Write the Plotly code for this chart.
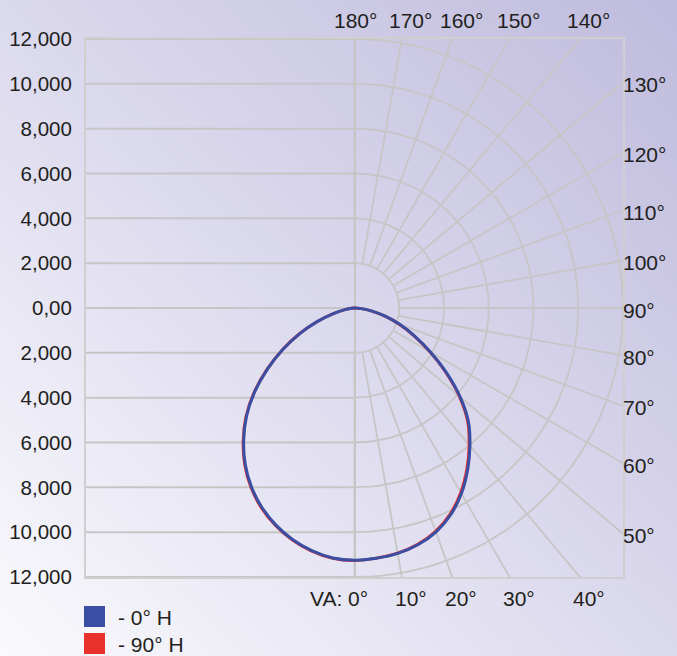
import math
import base64
import plotly.graph_objects as go

# ---------------- data ----------------
y_tick_values = [12000, 10000, 8000, 6000, 4000, 2000, 0,
                 -2000, -4000, -6000, -8000, -10000, -12000]
y_tick_labels = ["12,000", "10,000", "8,000", "6,000", "4,000", "2,000", "0,00",
                 "2,000", "4,000", "6,000", "8,000", "10,000", "12,000"]
ring_values = [2000, 4000, 6000, 8000, 10000, 12000]
spoke_angles = list(range(0, 181, 10))
top_angle_labels = [180, 170, 160, 150, 140]
right_angle_labels = [130, 120, 110, 100, 90, 80, 70, 60, 50]
bottom_angle_labels = [0, 10, 20, 30, 40]

gamma = [0, 5, 10, 15, 20, 25, 30, 35, 40, 45, 50, 55, 60, 65, 70, 75, 80, 85, 90]
h0_right = [11236, 11206, 11116, 10936, 10636, 10176, 9556, 8816, 8026, 7206,
            6156, 5006, 3906, 2966, 2166, 1446, 796, 316, 0]
h0_left = [11250, 11195, 10995, 10695, 10295, 9805, 9215, 8515, 7705, 6825,
           5825, 4750, 3700, 2700, 1775, 975, 425, 125, 0]
h90_right = [11230, 11200, 11105, 10915, 10600, 10130, 9500, 8760, 7970, 7150,
             6105, 4960, 3865, 2935, 2145, 1435, 790, 314, 0]
h90_left = [11262, 11210, 11015, 10720, 10325, 9840, 9250, 8550, 7740, 6860,
            5855, 4775, 3720, 2715, 1785, 980, 427, 125, 0]
series_names = ["- 0° H", "- 90° H"]
series_colors = ["#3a4ea3", "#e8312b"]

R = 12000
GRID = "#c6c6c6"
TXT = "#231f20"
FONT = "Liberation Sans, Arial, sans-serif"

fig = go.Figure()

# horizontal grid on left half
hx, hy = [], []
for v in y_tick_values:
    hx += [-R, 0, None]
    hy += [v, v, None]
fig.add_trace(go.Scatter(x=hx, y=hy, mode="lines", line=dict(color=GRID, width=2),
                         hoverinfo="skip", showlegend=False))

# polar grid on right half: rings
gx, gy = [], []
for r in ring_values:
    for d in range(0, 181, 2):
        a = math.radians(d)
        gx.append(r * math.sin(a))
        gy.append(-r * math.cos(a))
    gx.append(None)
    gy.append(None)
# spokes
for d in spoke_angles:
    a = math.radians(d)
    for r in (ring_values[0], 2 * R):
        gx.append(r * math.sin(a))
        gy.append(-r * math.cos(a))
    gx.append(None)
    gy.append(None)
fig.add_trace(go.Scatter(x=gx, y=gy, mode="lines", line=dict(color=GRID, width=1.8),
                         hoverinfo="skip", showlegend=False))


def curve(left, right):
    xs, ys = [], []
    for g, r in reversed(list(zip(gamma, left))):
        a = math.radians(g)
        xs.append(-r * math.sin(a))
        ys.append(-r * math.cos(a))
    for g, r in list(zip(gamma, right))[1:]:
        a = math.radians(g)
        xs.append(r * math.sin(a))
        ys.append(-r * math.cos(a))
    return xs, ys


x90, y90 = curve(h90_left, h90_right)
x0, y0 = curve(h0_left, h0_right)
fig.add_trace(go.Scatter(x=x90, y=y90, mode="lines", name=series_names[1],
                         line=dict(color=series_colors[1], width=3, shape="spline"),
                         hoverinfo="skip", showlegend=False))
fig.add_trace(go.Scatter(x=x0, y=y0, mode="lines", name=series_names[0],
                         line=dict(color=series_colors[0], width=3, shape="spline"),
                         hoverinfo="skip", showlegend=False))

# ---------------- layout ----------------
W, H = 677, 656
ML, MR, MT, MB = 86, 54, 39, 79
PW, PH = W - ML - MR, H - MT - MB

svg = (
    f'<svg xmlns="http://www.w3.org/2000/svg" width="{W}" height="{H}" '
    f'viewBox="0 0 {W} {H}" preserveAspectRatio="none">'
    '<defs><linearGradient id="g" x1="0" y1="1" x2="1" y2="0">'
    '<stop offset="0" stop-color="#fafafd"/>'
    '<stop offset="0.5" stop-color="#dbd9ed"/>'
    '<stop offset="1" stop-color="#bfbbdd"/>'
    '</linearGradient></defs>'
    f'<rect width="{W}" height="{H}" fill="url(#g)"/></svg>'
)
src = "data:image/svg+xml;base64," + base64.b64encode(svg.encode()).decode()

annotations = []
for a in top_angle_labels:
    xv = R * math.tan(math.radians(180 - a))
    annotations.append(dict(x=xv, y=R, xref="x", yref="y", text=f"{a}°",
                            showarrow=False, xanchor="center", yanchor="middle",
                            xshift=(1 if a == 180 else 9), yshift=18.5,
                            font=dict(family=FONT, size=21, color=TXT)))
for a in right_angle_labels:
    yv = -R / math.tan(math.radians(a)) if a != 90 else 0
    annotations.append(dict(x=R, y=yv, xref="x", yref="y", text=f"{a}°",
                            showarrow=False, xanchor="left", yanchor="middle",
                            xshift=-2, yshift=-2,
                            font=dict(family=FONT, size=21, color=TXT)))
for a in bottom_angle_labels:
    xv = R * math.tan(math.radians(a))
    if a == 0:
        annotations.append(dict(x=xv, y=-R, xref="x", yref="y", text=f"VA: {a}°",
                                showarrow=False, xanchor="right", yanchor="middle",
                                xshift=15, yshift=-21.5,
                                font=dict(family=FONT, size=21, color=TXT)))
    else:
        annotations.append(dict(x=xv, y=-R, xref="x", yref="y", text=f"{a}°",
                                showarrow=False, xanchor="center", yanchor="middle",
                                xshift=9, yshift=-21.5,
                                font=dict(family=FONT, size=21, color=TXT)))


def px_x(p):
    return (p - ML) / PW


def px_y(p):
    return (H - MB - p) / PH


shapes = []
legend_rows = [616.5, 643.5]
for name, col, cy in zip(series_names, series_colors, legend_rows):
    shapes.append(dict(type="rect", xref="paper", yref="paper",
                       x0=px_x(84), x1=px_x(105), y0=px_y(cy + 10.5), y1=px_y(cy - 10.5),
                       fillcolor=col, line=dict(width=0)))
    annotations.append(dict(x=px_x(116), y=px_y(cy + 1), xref="paper", yref="paper",
                            text=name, showarrow=False, xanchor="left", yanchor="middle",
                            font=dict(family=FONT, size=21, color=TXT)))

fig.update_layout(
    width=W, height=H,
    margin=dict(l=ML, r=MR, t=MT, b=MB, pad=0, autoexpand=False),
    paper_bgcolor="#dcdaee",
    plot_bgcolor="white",
    showlegend=False,
    images=[dict(source=src, xref="paper", yref="paper",
                 x=-ML / PW, y=1 + MT / PH, sizex=W / PW, sizey=H / PH,
                 sizing="stretch", xanchor="left", yanchor="top", layer="below")],
    annotations=annotations,
    shapes=shapes,
    xaxis=dict(range=[-R, R], showgrid=False, showticklabels=False, ticks="",
               zeroline=True, zerolinecolor=GRID, zerolinewidth=2, automargin=False,
               showline=True, mirror=True, linecolor="#cfcfcf", linewidth=2,
               fixedrange=True),
    yaxis=dict(range=[-R, R], showgrid=False, zeroline=False, automargin=False,
               tickmode="array", tickvals=y_tick_values, ticktext=y_tick_labels,
               ticks="outside", ticklen=8, tickcolor="rgba(0,0,0,0)",
               tickfont=dict(family=FONT, size=20.5, color=TXT),
               showline=True, mirror=True, linecolor="#cfcfcf", linewidth=2,
               fixedrange=True),
)

fig.write_html(
    "out.html",
    config={"displayModeBar": False},
    post_script="document.body.style.margin='0';document.body.style.overflow='hidden';",
)
